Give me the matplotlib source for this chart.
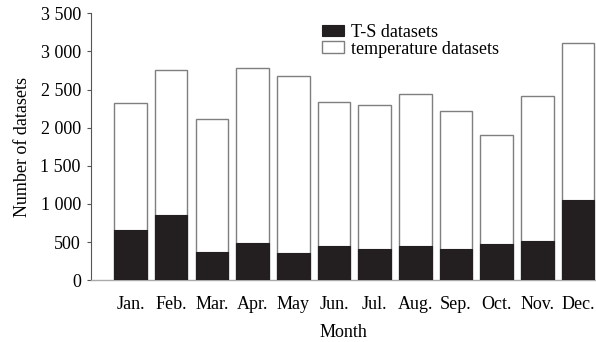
import numpy as np
import matplotlib
matplotlib.use("Agg")
import matplotlib.pyplot as plt
from matplotlib.ticker import FuncFormatter

months = ["Jan.", "Feb.", "Mar.", "Apr.", "May", "Jun.", "Jul.", "Aug.", "Sep.", "Oct.", "Nov.", "Dec."]
# total datasets per month (temperature + T-S)
total = [2328, 2760, 2118, 2780, 2680, 2337, 2296, 2440, 2220, 1905, 2413, 3106]
ts_sets = [656, 859, 370, 487, 357, 456, 404, 452, 409, 481, 520, 1058]

plt.rcParams['font.family'] = ['Liberation Serif', 'DejaVu Serif']
plt.rcParams['font.size'] = 13

fig = plt.figure(figsize=(5.96, 3.42), dpi=100)
ax = fig.add_axes([0.152, 0.1804, 0.848, 0.781])

x = np.arange(len(months))
ax.bar(x, total, width=0.8, color='white', edgecolor='#7f7f7f', linewidth=1.0,
       label='temperature datasets', zorder=2)
ax.bar(x, ts_sets, width=0.8, color='#231f20', edgecolor='#231f20', linewidth=0.8,
       label='T-S datasets', zorder=3)

ax.set_xlim(-0.98, 11.44)
ax.set_ylim(0, 3500)
ax.set_yticks(np.arange(0, 3501, 500))
ax.yaxis.set_major_formatter(FuncFormatter(lambda v, p: f"{int(v):,}".replace(",", " ")))
ax.set_xticks(x)
ax.set_xticklabels(months)
ax.tick_params(axis='x', length=0, pad=11)
ax.tick_params(axis='y', length=3, width=0.8, color='#555555', pad=4)

for s in ['top', 'right']:
    ax.spines[s].set_visible(False)
ax.spines['left'].set_color('#555555')
ax.spines['left'].set_linewidth(0.8)
ax.spines['bottom'].set_color('#aaaaaa')
ax.spines['bottom'].set_linewidth(1.0)

ax.set_ylabel('Number of datasets', labelpad=7)
ax.set_xlabel('Month', labelpad=8.5)

h, l = ax.get_legend_handles_labels()
ax.legend([h[1], h[0]], [l[1], l[0]], frameon=False, loc='upper left',
          bbox_to_anchor=(0.535, 0.94), bbox_transform=fig.transFigure,
          handlelength=1.17, handleheight=0.6, handletextpad=0.43,
          labelspacing=-0.03, borderpad=0.2, borderaxespad=0)

fig.savefig('out.png', dpi=100, facecolor='white')
